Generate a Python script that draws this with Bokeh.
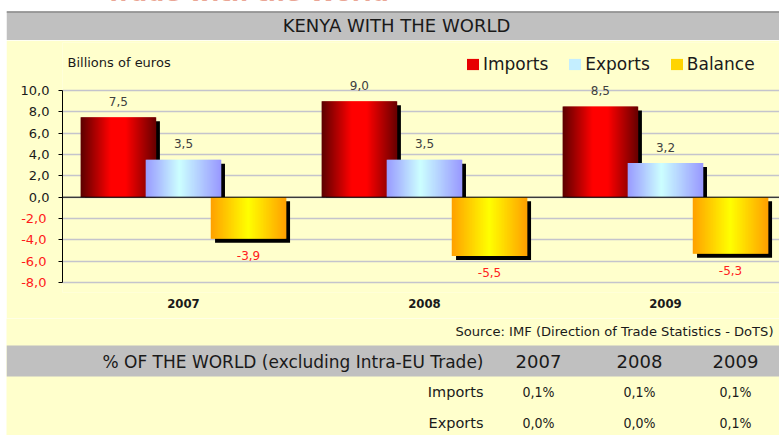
from bokeh.plotting import figure
from bokeh.models import (ColumnDataSource, Range1d, FixedTicker, LinearAxis, Span,
                          Label, Legend, LegendItem)
from bokeh.layouts import column
from bokeh.embed import file_html
from bokeh.resources import INLINE
from bokeh.core.properties import value

# ---------------- data ----------------
YEARS = ["2007", "2008", "2009"]
SERIES = ["Imports", "Exports", "Balance"]
IMPORTS = [7.5, 9.0, 8.5]
EXPORTS = [3.5, 3.5, 3.2]
BALANCE = [-3.9, -5.5, -5.3]
Y_TICKS = [-8, -6, -4, -2, 0, 2, 4, 6, 8, 10]
Y_TICK_LABELS = ["-8,0", "-6,0", "-4,0", "-2,0", "0,0", "2,0", "4,0", "6,0", "8,0", "10,0"]
SHARE_ROWS = ["Imports", "Exports"]
SHARE_IMPORTS = ["0,1%", "0,1%", "0,1%"]
SHARE_EXPORTS = ["0,0%", "0,0%", "0,1%"]
PAGE_TITLE = "Trade with the World"
TITLE = "KENYA WITH THE WORLD"
UNIT = "Billions of euros"
SOURCE = "Source: IMF (Direction of Trade Statistics - DoTS)"
TABLE_HEAD = "% OF THE WORLD (excluding Intra-EU Trade)"

# ---------------- style ----------------
W = 773
MARGIN = (0, 0, 0, 6)
H_HEAD, H_CHART, H_TABLE = 40, 278, 117
YELLOW = "#ffffcc"
GRAY = "#c0c0c0"
SANS_S = "DejaVu Sans"
COND_S = "DejaVu Sans Condensed"
SANS = value(SANS_S)
COND = value(COND_S)
TXT = "#1a1a1a"

GRADIENTS = {
    "Imports": [(0.0, "#5c0000"), (0.4, "#ff0000"), (0.6, "#ff0000"), (1.0, "#6a0000")],
    "Exports": [(0.0, "#9999ff"), (0.45, "#ccffff"), (1.0, "#9999ff")],
    "Balance": [(0.0, "#ffa000"), (0.5, "#ffff00"), (1.0, "#ffa000")],
}
NSTRIP = 75
LEGEND_IDX = {"Imports": 25, "Exports": 40, "Balance": 20}
OFFSETS = {"Imports": -0.27, "Exports": 0.0, "Balance": 0.27}


def hex2rgb(h):
    h = h.lstrip("#")
    return [int(h[i:i + 2], 16) for i in (0, 2, 4)]


def grad(stops, t):
    for (t0, c0), (t1, c1) in zip(stops[:-1], stops[1:]):
        if t0 <= t <= t1:
            f = 0 if t1 == t0 else (t - t0) / (t1 - t0)
            a, b = hex2rgb(c0), hex2rgb(c1)
            return "#%02x%02x%02x" % tuple(round(a[k] + (b[k] - a[k]) * f) for k in range(3))
    return stops[-1][1]


def fmt(v):
    return ("%.1f" % v).replace(".", ",")


def blank_fig(h):
    f = figure(width=W, height=h, x_range=Range1d(0, W), y_range=Range1d(h, 0),
               output_backend="svg", toolbar_location=None, min_border=0,
               x_axis_location=None, y_axis_location=None, frame_align=False,
               margin=MARGIN)
    f.outline_line_color = None
    f.xgrid.visible = False
    f.ygrid.visible = False
    f.background_fill_color = YELLOW
    f.border_fill_color = YELLOW
    return f


# ---------------- header ----------------
head = blank_fig(H_HEAD)
head.background_fill_color = "white"
head.border_fill_color = "white"
head.text(x=[99], y=[-8], text=[PAGE_TITLE], text_align="left", text_baseline="middle",
          text_font=SANS, text_font_style="bold", text_font_size="24px", text_color="#d9583b")
head.quad(left=[0], right=[W], top=[11], bottom=[H_HEAD], fill_color=GRAY, line_color=None)
head.segment(x0=[0], y0=[11.5], x1=[W], y1=[11.5], line_color="#8a8a8a", line_width=1.5)
head.text(x=[390], y=[24.5], text=[TITLE], text_align="center", text_baseline="middle",
          text_font=SANS, text_font_size="18px", text_color=TXT)

# ---------------- chart ----------------
PX_X = 241.0
PX_Y = 10.67
x0 = -0.502
p = figure(width=W, height=H_CHART,
           x_range=Range1d(x0, x0 + 717 / PX_X), y_range=Range1d(-8.93, 14.5),
           output_backend="svg", toolbar_location=None, frame_align=False, margin=MARGIN,
           min_border_left=56, min_border_right=0, min_border_top=2, min_border_bottom=26)
p.background_fill_color = YELLOW
p.border_fill_color = YELLOW
p.outline_line_color = None

p.xgrid.visible = False
p.ygrid.grid_line_color = "#c4c4cc"
p.ygrid.grid_line_width = 1.5

yax = p.yaxis[0]
yax.ticker = FixedTicker(ticks=Y_TICKS)
yax.bounds = (-8, 10)
yax.axis_line_color = "black"
yax.major_tick_line_color = "black"
yax.major_tick_out = 4
yax.major_tick_in = 0
yax.minor_tick_line_color = None
yax.major_label_standoff = 9
yax.major_label_text_font = SANS_S
yax.major_label_text_font_size = "13px"
yax.major_label_text_color = TXT
yax.major_label_overrides = {t: (l if t >= 0 else "") for t, l in zip(Y_TICKS, Y_TICK_LABELS)}

yneg = LinearAxis(ticker=FixedTicker(ticks=Y_TICKS))
yneg.axis_line_color = None
yneg.major_tick_line_color = None
yneg.minor_tick_line_color = None
yneg.major_tick_out = 0
yneg.major_tick_in = 0
yneg.major_label_standoff = -29
yneg.major_label_text_font = SANS_S
yneg.major_label_text_font_size = "13px"
yneg.major_label_text_color = "#ff1a1a"
yneg.major_label_overrides = {t: (l if t < 0 else "") for t, l in zip(Y_TICKS, Y_TICK_LABELS)}
p.add_layout(yneg, "left")

xax = p.xaxis[0]
xax.ticker = FixedTicker(ticks=list(range(len(YEARS))))
xax.major_label_overrides = {i: y for i, y in enumerate(YEARS)}
xax.axis_line_color = None
xax.major_tick_line_color = None
xax.minor_tick_line_color = None
xax.major_label_standoff = 0
xax.major_label_text_font = COND_S
xax.major_label_text_font_style = "bold"
xax.major_label_text_font_size = "13px"
xax.major_label_text_color = TXT

bar_w = 75 / PX_X
sdx = 4 / PX_X
sdy = 4 / PX_Y
renderers = {}
for name, vals in zip(SERIES, [IMPORTS, EXPORTS, BALANCE]):
    off = OFFSETS[name]
    # drop shadow
    sh_x = [g + off + sdx for g in range(len(vals))]
    sh_top = [v - sdy if v > 0 else -sdy for v in vals]
    sh_bot = [0 if v > 0 else v - sdy for v in vals]
    p.vbar(x=sh_x, top=sh_top, bottom=sh_bot, width=bar_w, fill_color="black", line_color=None)
    # horizontal gradient made of thin strips
    xs, tops, cols = [], [], []
    for g, v in enumerate(vals):
        for i in range(NSTRIP):
            t = (i + 0.5) / NSTRIP
            xs.append(g + off + (t - 0.5) * bar_w)
            tops.append(v)
            cols.append(grad(GRADIENTS[name], t))
    src = ColumnDataSource(dict(x=xs, top=tops, color=cols))
    renderers[name] = p.vbar(x="x", top="top", bottom=0, width=bar_w / NSTRIP * 1.6,
                             fill_color="color", line_color=None, source=src)

p.add_layout(Span(location=0, dimension="width", line_color="black", line_width=1))

# value labels
pos_x, pos_y, pos_t, neg_x, neg_y, neg_t = [], [], [], [], [], []
for name, vals in zip(SERIES, [IMPORTS, EXPORTS, BALANCE]):
    for g, v in enumerate(vals):
        if v >= 0:
            pos_x.append(g + OFFSETS[name]); pos_y.append(v); pos_t.append(fmt(v))
        else:
            neg_x.append(g + OFFSETS[name]); neg_y.append(v); neg_t.append(fmt(v))
p.text(x=pos_x, y=pos_y, text=pos_t, y_offset=-16, text_align="center", text_baseline="middle",
       text_font=SANS, text_font_size="12px", text_color="#404040")
p.text(x=neg_x, y=neg_y, text=neg_t, y_offset=17, text_align="center", text_baseline="middle",
       text_font=SANS, text_font_size="12px", text_color="#ff2020")

p.add_layout(Label(x=5, y=230, x_units="screen", y_units="screen", text=UNIT,
                   text_font=SANS_S, text_font_size="13px", text_baseline="middle",
                   text_color=TXT))

legend = Legend(items=[LegendItem(label=n, renderers=[renderers[n]], index=LEGEND_IDX[n])
                       for n in SERIES],
                location=(403, 218), orientation="horizontal")
legend.background_fill_alpha = 0
legend.border_line_color = None
legend.padding = 0
legend.margin = 0
legend.spacing = 19
legend.glyph_width = 15
legend.glyph_height = 14
legend.label_standoff = 3
legend.label_text_font = SANS_S
legend.label_text_font_size = "17px"
legend.label_text_color = TXT
p.add_layout(legend)

# ---------------- table ----------------
tb = blank_fig(H_TABLE)
tb.text(x=[449], y=[13], text=[SOURCE], text_align="left", text_baseline="middle",
        text_font=SANS, text_font_size="13.1px", text_color=TXT)
tb.quad(left=[0], right=[W], top=[27], bottom=[58], fill_color=GRAY, line_color=None)
tb.text(x=[477], y=[43], text=[TABLE_HEAD], text_align="right", text_baseline="middle",
        text_font=SANS, text_font_size="17px", text_color=TXT)
col_x = [532, 633, 729]
tb.text(x=col_x, y=[43] * 3, text=YEARS, text_align="center", text_baseline="middle",
        text_font=SANS, text_font_size="18px", text_color=TXT)
tb.text(x=[477, 477], y=[73, 104.5], text=SHARE_ROWS, text_align="right", text_baseline="middle",
        text_font=SANS, text_font_size="14.5px", text_color=TXT)
tb.text(x=col_x * 2, y=[73] * 3 + [104.5] * 3, text=SHARE_IMPORTS + SHARE_EXPORTS,
        text_align="center", text_baseline="middle",
        text_font=COND, text_font_size="14px", text_color=TXT)

layout = column(head, p, tb, spacing=0)
open("out.html", "w").write(file_html(layout, INLINE))
